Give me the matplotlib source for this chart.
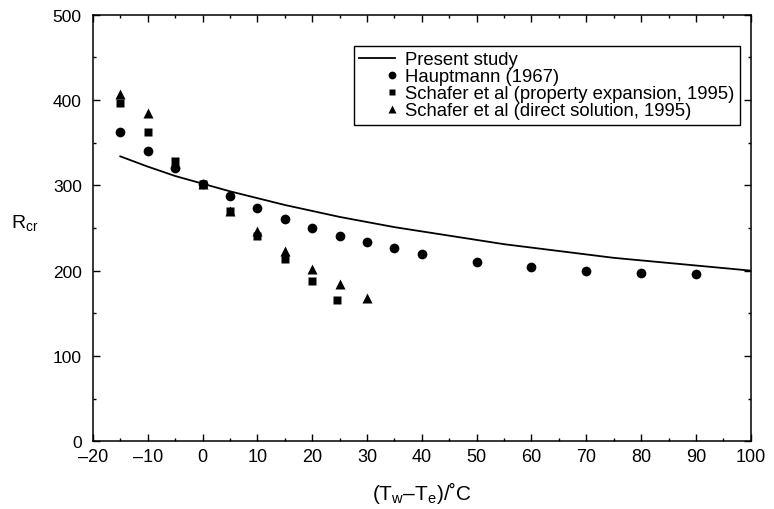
import numpy as np
import matplotlib
matplotlib.use("Agg")
import matplotlib.pyplot as plt
from matplotlib.legend_handler import HandlerLine2D
from matplotlib.ticker import MultipleLocator

plt.rcParams['font.family'] = ['Liberation Sans', 'DejaVu Sans']
plt.rcParams['mathtext.fontset'] = 'custom'
plt.rcParams['mathtext.rm'] = 'Liberation Sans'
plt.rcParams['mathtext.it'] = 'Liberation Sans:italic'

# Present study (curve)
present_x = [-15, -10, -5, 0, 5, 10, 15, 20, 25, 30, 35, 40, 45, 50, 55, 60,
             65, 70, 75, 80, 85, 90, 95, 100]
present_y = [334, 322, 311, 302, 293, 285, 277, 270, 263, 257, 251, 246, 241,
             236, 231, 227, 223, 219, 215, 212, 209, 206, 203, 200]

# Hauptmann (1967)
haupt_x = [-15, -10, -5, 0, 5, 10, 15, 20, 25, 30, 35, 40, 50, 60, 70, 80, 90]
haupt_y = [363, 340, 320, 302, 287, 273, 261, 250, 241, 233, 226, 220, 210,
           204, 199, 197, 196]

# Schafer et al (property expansion, 1995)
prop_x = [-15, -10, -5, 0, 5, 10, 15, 20, 24.5]
prop_y = [397, 362, 329, 302, 270, 241, 214, 188, 166]

# Schafer et al (direct solution, 1995)
direct_x = [-15, -10, -5, 0, 5, 10, 15, 20, 25, 30]
direct_y = [407, 385, 326, 302, 270, 246, 223, 202, 184, 168]

x_ticks = [-20, -10, 0, 10, 20, 30, 40, 50, 60, 70, 80, 90, 100]
x_tick_labels = ["\u201320", "\u201310", "0", "10", "20", "30", "40", "50",
                 "60", "70", "80", "90", "100"]

labels = ["Present study", "Hauptmann (1967)",
          "Schafer et al (property expansion, 1995)",
          "Schafer et al (direct solution, 1995)"]


class RightMarkerHandler(HandlerLine2D):
    def get_xdata(self, legend, xdescent, ydescent, width, height, fontsize):
        x = -xdescent + width * 0.9
        return np.array([x, x]), np.array([x])


fig = plt.figure(figsize=(7.74, 5.10), dpi=100)
ax = fig.add_axes([0.120, 0.133, 0.850, 0.836])

l0, = ax.plot(present_x, present_y, color='black', lw=1.3, label=labels[0])
l1, = ax.plot(haupt_x, haupt_y, 'o', color='black', ms=7, mec='none', label=labels[1])
l2, = ax.plot(prop_x, prop_y, 's', color='black', ms=6, mec='none', label=labels[2])
l3, = ax.plot(direct_x, direct_y, '^', color='black', ms=7, mec='none', label=labels[3])

ax.set_xticks(x_ticks)
ax.set_xticklabels(x_tick_labels)
ax.set_xlim(-20, 100)
ax.set_ylim(0, 500)
ax.xaxis.set_minor_locator(MultipleLocator(5))
ax.yaxis.set_major_locator(MultipleLocator(100))
ax.yaxis.set_minor_locator(MultipleLocator(50))
ax.tick_params(which='both', direction='in', top=True, right=True,
               width=1, colors='black')
ax.tick_params(which='major', length=5)
ax.tick_params(which='minor', length=2.5)
ax.tick_params(axis='x', which='major', labelsize=13, pad=5)
ax.tick_params(axis='y', which='major', labelsize=12.5, pad=8)
for s in ax.spines.values():
    s.set_linewidth(1.1)

ax.set_xlabel(r"(T$_\mathrm{w}$–T$_\mathrm{e}$)/˚C", fontsize=15, labelpad=10)
ax.set_ylabel(r"R$_\mathrm{cr}$", fontsize=14, rotation=0, va='center', ha='center')
ax.yaxis.set_label_coords(-0.103, 0.515)

hm = {l1: RightMarkerHandler(numpoints=1), l2: RightMarkerHandler(numpoints=1),
      l3: RightMarkerHandler(numpoints=1)}
leg = ax.legend(handles=[l0, l1, l2, l3], loc='upper right',
                bbox_to_anchor=(0.983, 0.927), borderaxespad=0,
                fontsize=13.3, frameon=True,
                fancybox=False, edgecolor='black', framealpha=1,
                handlelength=1.95, handletextpad=0.5, labelspacing=0.0,
                borderpad=0.3, markerscale=0.8, handler_map=hm)
leg.get_frame().set_linewidth(1.0)

fig.savefig("out.png", dpi=100)
